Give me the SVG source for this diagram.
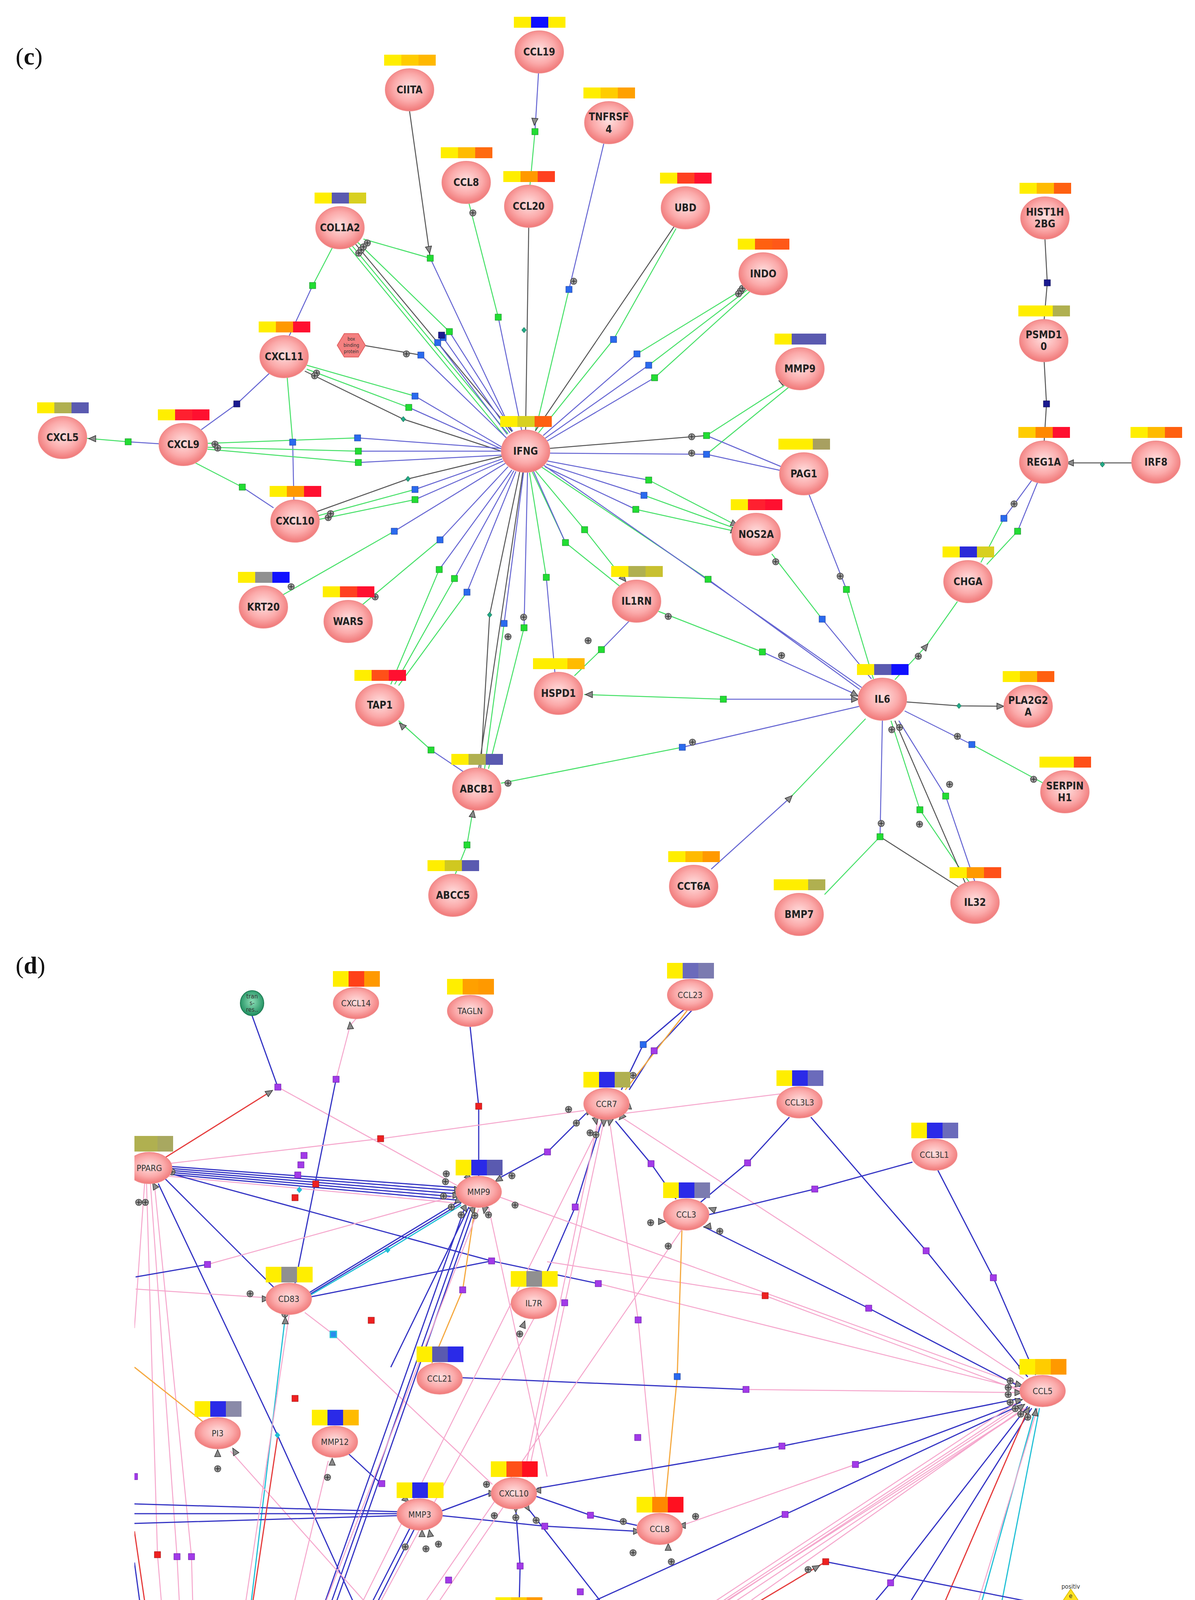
<svg xmlns="http://www.w3.org/2000/svg" xmlns:xlink="http://www.w3.org/1999/xlink" width="3058" height="5252" viewBox="0 0 3058 5252">
<style>
.b{stroke:#6464d2;stroke-width:2.5;fill:none}
.g{stroke:#44e066;stroke-width:2.5;fill:none}
.k{stroke:#555;stroke-width:2.5;fill:none}
.db{stroke:#3434c4;stroke-width:3;fill:none}
.pk{stroke:#f5a6cc;stroke-width:2.5;fill:none}
.rd{stroke:#e53a3a;stroke-width:3;fill:none}
.cy{stroke:#22c0d6;stroke-width:3;fill:none}
.or{stroke:#f5a940;stroke-width:3;fill:none}
.nd{fill:url(#rg);stroke:#f08a8a;stroke-width:2}
.tc{font-family:"DejaVu Sans Condensed","DejaVu Sans",sans-serif;font-weight:bold;font-size:26px;fill:#222;text-anchor:middle}
.td{font-family:"DejaVu Sans Condensed","DejaVu Sans",sans-serif;font-size:22px;fill:#333;text-anchor:middle}
.ts{font-family:"DejaVu Sans Condensed","DejaVu Sans",sans-serif;font-size:16px;fill:#333;text-anchor:middle}
.lab{font-family:"Liberation Serif",serif;font-size:62px;fill:#111}
</style>
<defs>
<radialGradient id="rg" cx="50%" cy="45%" r="55%"><stop offset="0" stop-color="#ffe0e0"/><stop offset="0.6" stop-color="#fbaaaa"/><stop offset="1" stop-color="#f07878"/></radialGradient>
<radialGradient id="gg" cx="50%" cy="45%" r="55%"><stop offset="0" stop-color="#8fe0b8"/><stop offset="1" stop-color="#1f8f60"/></radialGradient>
<g id="pl"><circle r="8" fill="#9a9a9a" stroke="#333" stroke-width="1.5"/><path d="M-6,0H6M0,-6V6" stroke="#222" stroke-width="1.5"/></g>
<polygon id="tr" points="-9,-8 9,0 -9,8" fill="#8a8a8a" stroke="#333" stroke-width="1.5"/>
<rect id="sG" x="-8" y="-8" width="16" height="16" fill="#22dd33" stroke="#118822"/>
<rect id="sB" x="-8" y="-8" width="16" height="16" fill="#2a6aee" stroke="#1a3a9a"/>
<rect id="sD" x="-8" y="-8" width="16" height="16" fill="#1a1a90" stroke="#0a0a50"/>
<rect id="sP" x="-8" y="-8" width="16" height="16" fill="#a23ae8" stroke="#6010a0"/>
<rect id="sR" x="-8" y="-8" width="16" height="16" fill="#ee2020" stroke="#a01010"/>
<rect id="sC" x="-8" y="-8" width="16" height="16" fill="#2a8aee" stroke="#22c0d6" stroke-width="3"/>
<polygon id="dm" points="0,-7 6,0 0,7 -6,0" fill="#22aa88" stroke="#116644"/>
<polygon id="dc" points="0,-8 7,0 0,8 -7,0" fill="#22c0d6"/>
<clipPath id="cd"><rect x="344" y="2420" width="2714" height="2792"/></clipPath>
</defs>
<rect width="3058" height="5252" fill="#fff"/>
<text class="lab" x="40" y="165">(<tspan font-weight="bold">c</tspan>)</text>
<text class="lab" x="40" y="2492">(<tspan font-weight="bold">d</tspan>)</text>

<g id="connectors-c">
<path class="k" d="M1048,284L1101,661"/><path class="b" d="M1101,661L1310,1105"/>
<path class="b" d="M1378,187L1369,337"/><path class="g" d="M1369,337L1356,476"/>
<path class="b" d="M1545,368L1456,741"/><path class="g" d="M1456,741L1370,1103"/>
<path class="g" d="M1200,520L1275,812"/><path class="b" d="M1275,812L1335,1102"/>
<path class="k" d="M1353,582L1345,1101"/>
<path class="k" d="M1725,580L1370,1103"/><path class="g" d="M1730,585L1570,869L1378,1108"/>
<path class="g" d="M900,628L1300,1110M893,633L1290,1115M915,620L1150,849"/><path class="k" d="M910,625L1310,1105"/><path class="g" d="M930,612L1101,661"/>
<path class="b" d="M1134,864L1305,1108M1120,877L1298,1112M1150,849L1312,1104"/>
<path class="g" d="M1910,735L1630,906M1915,740L1660,935M1920,745L1675,967"/><path class="b" d="M1630,906L1390,1115M1660,935L1395,1122M1675,967L1398,1130"/>
<path class="k" d="M930,884L1077,909"/><path class="b" d="M1077,909L1300,1125"/>
<path class="g" d="M785,935L1062,1014M785,945L1046,1043"/><path class="b" d="M1062,1014L1285,1145M1046,1043L1285,1150"/><path class="k" d="M780,950L1032,1073L1283,1155"/>
<path class="b" d="M740,860L800,731"/><path class="g" d="M800,731L850,635"/>
<path class="b" d="M690,955L606,1034L515,1100"/>
<path class="g" d="M735,967L749,1132"/><path class="b" d="M749,1132L752,1280"/>
<path class="b" d="M407,1136L328,1131"/><path class="g" d="M328,1131L222,1122"/>
<path class="g" d="M531,1135L915,1121M531,1145L917,1155M531,1150L917,1184"/><path class="b" d="M915,1121L1283,1148M917,1155L1283,1155M917,1184L1285,1165"/>
<path class="g" d="M500,1185L620,1247"/><path class="b" d="M620,1247L700,1300"/>
<path class="g" d="M815,1320L1062,1253M815,1330L1062,1279"/><path class="b" d="M1062,1253L1285,1175M1062,1279L1288,1180"/><path class="k" d="M810,1310L1044,1226L1285,1168"/>
<path class="g" d="M2010,985L1808,1115M2020,990L1808,1163"/><path class="k" d="M1405,1148L1808,1115"/><path class="b" d="M1808,1163L1405,1160M2000,1195L1808,1115M2000,1205L1808,1163"/>
<path class="b" d="M1400,1180L1660,1229M1398,1188L1648,1268M1395,1195L1627,1304"/><path class="g" d="M1660,1229L1885,1345M1648,1268L1888,1355M1627,1304L1890,1362"/>
<path class="g" d="M720,1525L1009,1360"/><path class="b" d="M1009,1360L1295,1185"/>
<path class="g" d="M925,1550L1126,1382"/><path class="b" d="M1126,1382L1300,1195"/>
<path class="g" d="M1000,1752L1124,1458M1010,1752L1163,1481M1020,1755L1195,1516"/><path class="b" d="M1124,1458L1310,1203M1163,1481L1315,1205M1195,1516L1320,1207"/>
<path class="k" d="M1230,1968L1253,1574L1330,1208M1225,1968L1338,1208"/><path class="g" d="M1240,1968L1290,1596M1250,1968L1341,1607"/><path class="b" d="M1290,1596L1340,1208M1341,1607L1350,1208"/>
<path class="g" d="M1370,1205L1496,1356L1600,1488M1362,1208L1447,1389L1585,1500"/><path class="b" d="M1365,1206L1447,1389"/>
<path class="b" d="M1420,1722L1398,1478"/><path class="g" d="M1398,1478L1355,1210"/>
<path class="g" d="M1385,1195L1812,1483"/><path class="b" d="M1812,1483L2200,1765M1390,1190L2205,1760"/>
<path class="g" d="M1685,1565L1951,1669"/><path class="b" d="M1951,1669L2195,1780"/>
<path class="b" d="M1610,1590L1539,1663"/><path class="g" d="M1539,1663L1470,1730"/>
<path class="g" d="M1495,1778L1851,1790"/><path class="b" d="M1851,1790L2195,1790"/>
<path class="g" d="M1975,1418L2104,1585"/><path class="b" d="M2104,1585L2230,1738"/>
<path class="b" d="M2070,1265L2166,1509"/><path class="g" d="M2166,1509L2235,1738"/>
<path class="g" d="M2290,1740L2369,1655L2450,1540"/>
<path class="g" d="M2510,1440L2569,1327M2525,1445L2604,1360"/><path class="b" d="M2569,1327L2640,1230M2604,1360L2655,1235"/>
<path class="k" d="M2896,1185L2733,1185"/>
<path class="k" d="M2672,926L2678,1034L2672,1129"/>
<path class="k" d="M2674,612L2680,724L2672,818"/>
<path class="k" d="M2320,1797L2454,1807L2568,1808"/>
<path class="b" d="M2315,1820L2487,1906"/><path class="g" d="M2487,1906L2670,2005"/>
<path class="g" d="M1282,2005L1746,1913"/><path class="b" d="M1746,1913L2200,1808"/>
<path class="b" d="M1185,1975L1103,1920"/><path class="g" d="M1103,1920L1020,1845"/>
<path class="g" d="M1165,2238L1195,2163L1210,2075"/>
<path class="b" d="M1820,2225L2021,2043"/><path class="g" d="M2021,2043L2215,1840"/>
<path class="g" d="M2110,2290L2252,2142"/><path class="b" d="M2252,2142L2258,1845"/><path class="k" d="M2460,2275L2252,2142"/>
<path class="g" d="M2480,2258L2354,2073L2280,1845"/><path class="b" d="M2495,2258L2420,2038L2300,1845"/><path class="k" d="M2470,2260L2290,1845"/>
<g>
<use href="#sG" x="1101" y="661"/><use href="#sG" x="1369" y="337"/><use href="#sB" x="1456" y="741"/><use href="#sG" x="1275" y="812"/><use href="#dm" x="1341" y="845"/><use href="#sB" x="1570" y="869"/>
<use href="#sB" x="1134" y="864"/><use href="#sB" x="1120" y="877"/><use href="#sG" x="1150" y="849"/><use href="#sD" x="1130" y="858"/>
<use href="#sB" x="1630" y="906"/><use href="#sB" x="1660" y="935"/><use href="#sG" x="1675" y="967"/><use href="#sB" x="1077" y="909"/>
<use href="#sB" x="1062" y="1014"/><use href="#sG" x="1046" y="1043"/><use href="#dm" x="1032" y="1073"/><use href="#sG" x="800" y="731"/><use href="#sD" x="606" y="1034"/><use href="#sB" x="749" y="1132"/>
<use href="#sG" x="328" y="1131"/><use href="#sB" x="915" y="1121"/><use href="#sG" x="917" y="1155"/><use href="#sG" x="917" y="1184"/><use href="#sG" x="620" y="1247"/>
<use href="#sB" x="1062" y="1253"/><use href="#sG" x="1062" y="1279"/><use href="#dm" x="1044" y="1226"/><use href="#sG" x="1808" y="1115"/><use href="#sB" x="1808" y="1163"/>
<use href="#sG" x="1660" y="1229"/><use href="#sB" x="1648" y="1268"/><use href="#sG" x="1627" y="1304"/><use href="#sB" x="1009" y="1360"/><use href="#sB" x="1126" y="1382"/>
<use href="#sG" x="1124" y="1458"/><use href="#sG" x="1163" y="1481"/><use href="#sB" x="1195" y="1516"/><use href="#dm" x="1253" y="1574"/><use href="#sB" x="1290" y="1596"/><use href="#sG" x="1341" y="1607"/>
<use href="#sG" x="1496" y="1356"/><use href="#sG" x="1447" y="1389"/><use href="#sG" x="1398" y="1478"/><use href="#sG" x="1812" y="1483"/><use href="#sG" x="1951" y="1669"/><use href="#sG" x="1539" y="1663"/><use href="#sG" x="1851" y="1790"/>
<use href="#sB" x="2104" y="1585"/><use href="#sG" x="2166" y="1509"/><use href="#sB" x="2569" y="1327"/><use href="#sG" x="2604" y="1360"/><use href="#dm" x="2821" y="1189"/><use href="#sD" x="2678" y="1034"/><use href="#sD" x="2680" y="724"/>
<use href="#dm" x="2454" y="1807"/><use href="#sB" x="2487" y="1906"/><use href="#sB" x="1746" y="1913"/><use href="#sG" x="1103" y="1920"/><use href="#sG" x="1195" y="2163"/><use href="#sG" x="2252" y="2142"/><use href="#sG" x="2354" y="2073"/><use href="#sG" x="2420" y="2038"/>
<use href="#tr" transform="translate(1098,640) rotate(80)"/><use href="#tr" transform="translate(1368,312) rotate(95)"/><use href="#tr" transform="translate(2021,2043) rotate(-45)"/><use href="#tr" transform="translate(2369,1655) rotate(-50)"/>
<use href="#tr" transform="translate(2738,1185) rotate(180)"/><use href="#tr" transform="translate(2560,1808)"/><use href="#tr" transform="translate(236,1123) rotate(180)"/><use href="#tr" transform="translate(1210,2083) rotate(-80)"/>
<use href="#tr" transform="translate(1028,1857) rotate(-135)"/><use href="#tr" transform="translate(1507,1778) rotate(180)"/><use href="#tr" transform="translate(2188,1790)"/><use href="#tr" transform="translate(2188,1778) rotate(30)"/>
<use href="#tr" transform="translate(2005,975) rotate(-40)"/><use href="#tr" transform="translate(1880,1342) rotate(25)"/><use href="#tr" transform="translate(1880,1360) rotate(20)"/><use href="#tr" transform="translate(1596,1482) rotate(50)"/>
<use href="#pl" x="1210" y="545"/><use href="#pl" x="1468" y="720"/><use href="#pl" x="940" y="622"/><use href="#pl" x="918" y="648"/><use href="#pl" x="924" y="640"/><use href="#pl" x="930" y="632"/>
<use href="#pl" x="1895" y="745"/><use href="#pl" x="1890" y="752"/><use href="#pl" x="1900" y="738"/><use href="#pl" x="1040" y="906"/><use href="#pl" x="810" y="955"/><use href="#pl" x="805" y="962"/>
<use href="#pl" x="550" y="1137"/><use href="#pl" x="557" y="1147"/><use href="#pl" x="840" y="1325"/><use href="#pl" x="846" y="1315"/><use href="#pl" x="1770" y="1118"/><use href="#pl" x="1770" y="1160"/>
<use href="#pl" x="745" y="1502"/><use href="#pl" x="960" y="1528"/><use href="#pl" x="1300" y="1630"/><use href="#pl" x="1340" y="1580"/><use href="#pl" x="1505" y="1640"/><use href="#pl" x="1710" y="1578"/><use href="#pl" x="1985" y="1438"/>
<use href="#pl" x="1300" y="2005"/><use href="#pl" x="2450" y="1885"/><use href="#pl" x="2645" y="1995"/><use href="#pl" x="2150" y="1475"/><use href="#pl" x="2255" y="2108"/><use href="#pl" x="2430" y="2008"/><use href="#pl" x="2353" y="2110"/>
<use href="#pl" x="2000" y="1678"/><use href="#pl" x="2350" y="1680"/><use href="#pl" x="2282" y="1868"/><use href="#pl" x="2302" y="1862"/><use href="#pl" x="2595" y="1290"/><use href="#pl" x="1772" y="1900"/>
</g>
</g>

<g id="nodes-c">
<g id="c-IFNG" transform="translate(1345,1155)"><rect x="-65" y="-90" width="44" height="28" fill="#ffee00"/><rect x="-21" y="-90" width="44" height="28" fill="#d8d020"/><rect x="23" y="-90" width="44" height="28" fill="#ff6010"/><ellipse class="nd" rx="62" ry="54"/><text class="tc" y="9">IFNG</text></g>
<g id="c-CCL19" transform="translate(1380,133)"><rect x="-65" y="-90" width="44" height="28" fill="#ffee00"/><rect x="-21" y="-90" width="44" height="28" fill="#1010ff"/><rect x="23" y="-90" width="44" height="28" fill="#ffee00"/><ellipse class="nd" rx="62" ry="54"/><text class="tc" y="9">CCL19</text></g>
<g id="c-CIITA" transform="translate(1048,230)"><rect x="-65" y="-90" width="44" height="28" fill="#ffee00"/><rect x="-21" y="-90" width="44" height="28" fill="#ffcc00"/><rect x="23" y="-90" width="44" height="28" fill="#ffb800"/><ellipse class="nd" rx="62" ry="54"/><text class="tc" y="9">CIITA</text></g>
<g id="c-TNFRSF4" transform="translate(1558,314)"><rect x="-65" y="-90" width="44" height="28" fill="#ffee00"/><rect x="-21" y="-90" width="44" height="28" fill="#ffcc00"/><rect x="23" y="-90" width="44" height="28" fill="#ffa000"/><ellipse class="nd" rx="62" ry="54"/><text class="tc" y="-6">TNFRSF</text><text class="tc" y="26">4</text></g>
<g id="c-CCL8" transform="translate(1193,467)"><rect x="-65" y="-90" width="44" height="28" fill="#ffee00"/><rect x="-21" y="-90" width="44" height="28" fill="#ffbb00"/><rect x="23" y="-90" width="44" height="28" fill="#ff6a10"/><ellipse class="nd" rx="62" ry="54"/><text class="tc" y="9">CCL8</text></g>
<g id="c-CCL20" transform="translate(1353,528)"><rect x="-65" y="-90" width="44" height="28" fill="#ffee00"/><rect x="-21" y="-90" width="44" height="28" fill="#ff9900"/><rect x="23" y="-90" width="44" height="28" fill="#ff4020"/><ellipse class="nd" rx="62" ry="54"/><text class="tc" y="9">CCL20</text></g>
<g id="c-UBD" transform="translate(1754,532)"><rect x="-65" y="-90" width="44" height="28" fill="#ffee00"/><rect x="-21" y="-90" width="44" height="28" fill="#ff4020"/><rect x="23" y="-90" width="44" height="28" fill="#ff1030"/><ellipse class="nd" rx="62" ry="54"/><text class="tc" y="9">UBD</text></g>
<g id="c-COL1A2" transform="translate(870,583)"><rect x="-65" y="-90" width="44" height="28" fill="#ffee00"/><rect x="-21" y="-90" width="44" height="28" fill="#5a5ab0"/><rect x="23" y="-90" width="44" height="28" fill="#d8d020"/><ellipse class="nd" rx="62" ry="54"/><text class="tc" y="9">COL1A2</text></g>
<g id="c-INDO" transform="translate(1953,701)"><rect x="-65" y="-90" width="44" height="28" fill="#ffee00"/><rect x="-21" y="-90" width="44" height="28" fill="#ff6010"/><rect x="23" y="-90" width="44" height="28" fill="#ff5818"/><ellipse class="nd" rx="62" ry="54"/><text class="tc" y="9">INDO</text></g>
<g id="c-box" transform="translate(899,884)"><polygon points="-36,0 -18,-30 18,-30 36,0 18,30 -18,30" fill="#f48080" stroke="#e06060" stroke-width="2"/><text class="ts" font-size="12" y="-12" style="font-size:12px">box</text><text class="ts" y="4" style="font-size:12px">binding</text><text class="ts" y="20" style="font-size:12px">protein</text></g>
<g id="c-CXCL11" transform="translate(727,913)"><rect x="-65" y="-90" width="44" height="28" fill="#ffee00"/><rect x="-21" y="-90" width="44" height="28" fill="#ff9900"/><rect x="23" y="-90" width="44" height="28" fill="#ff1030"/><ellipse class="nd" rx="62" ry="54"/><text class="tc" y="9">CXCL11</text></g>
<g id="c-MMP9" transform="translate(2047,944)"><rect x="-65" y="-90" width="44" height="28" fill="#ffee00"/><rect x="-21" y="-90" width="44" height="28" fill="#5a5ab0"/><rect x="23" y="-90" width="44" height="28" fill="#5a5ab0"/><ellipse class="nd" rx="62" ry="54"/><text class="tc" y="9">MMP9</text></g>
<g id="c-CXCL5" transform="translate(160,1120)"><rect x="-65" y="-90" width="44" height="28" fill="#ffee00"/><rect x="-21" y="-90" width="44" height="28" fill="#b0b050"/><rect x="23" y="-90" width="44" height="28" fill="#5a5ab0"/><ellipse class="nd" rx="62" ry="54"/><text class="tc" y="9">CXCL5</text></g>
<g id="c-CXCL9" transform="translate(469,1138)"><rect x="-65" y="-90" width="44" height="28" fill="#ffee00"/><rect x="-21" y="-90" width="44" height="28" fill="#ff2030"/><rect x="23" y="-90" width="44" height="28" fill="#ff1030"/><ellipse class="nd" rx="62" ry="54"/><text class="tc" y="9">CXCL9</text></g>
<g id="c-PAG1" transform="translate(2057,1213)"><rect x="-65" y="-90" width="44" height="28" fill="#ffee00"/><rect x="-21" y="-90" width="44" height="28" fill="#ffee00"/><rect x="23" y="-90" width="44" height="28" fill="#a8a060"/><ellipse class="nd" rx="62" ry="54"/><text class="tc" y="9">PAG1</text></g>
<g id="c-HIST1H2BG" transform="translate(2674,558)"><rect x="-65" y="-90" width="44" height="28" fill="#ffee00"/><rect x="-21" y="-90" width="44" height="28" fill="#ffbb00"/><rect x="23" y="-90" width="44" height="28" fill="#ff6010"/><ellipse class="nd" rx="62" ry="54"/><text class="tc" y="-6">HIST1H</text><text class="tc" y="24">2BG</text></g>
<g id="c-PSMD10" transform="translate(2671,872)"><rect x="-65" y="-90" width="44" height="28" fill="#ffee00"/><rect x="-21" y="-90" width="44" height="28" fill="#ffee00"/><rect x="23" y="-90" width="44" height="28" fill="#b0b050"/><ellipse class="nd" rx="62" ry="54"/><text class="tc" y="-6">PSMD1</text><text class="tc" y="24">0</text></g>
<g id="c-REG1A" transform="translate(2671,1183)"><rect x="-65" y="-90" width="44" height="28" fill="#ffcc00"/><rect x="-21" y="-90" width="44" height="28" fill="#ff8800"/><rect x="23" y="-90" width="44" height="28" fill="#ff1030"/><ellipse class="nd" rx="62" ry="54"/><text class="tc" y="9">REG1A</text></g>
<g id="c-IRF8" transform="translate(2958,1183)"><rect x="-65" y="-90" width="44" height="28" fill="#ffee00"/><rect x="-21" y="-90" width="44" height="28" fill="#ffbb00"/><rect x="23" y="-90" width="44" height="28" fill="#ff6010"/><ellipse class="nd" rx="62" ry="54"/><text class="tc" y="9">IRF8</text></g>
<g id="c-CXCL10" transform="translate(755,1334)"><rect x="-65" y="-90" width="44" height="28" fill="#ffee00"/><rect x="-21" y="-90" width="44" height="28" fill="#ff9900"/><rect x="23" y="-90" width="44" height="28" fill="#ff1030"/><ellipse class="nd" rx="62" ry="54"/><text class="tc" y="9">CXCL10</text></g>
<g id="c-NOS2A" transform="translate(1935,1368)"><rect x="-65" y="-90" width="44" height="28" fill="#ffee00"/><rect x="-21" y="-90" width="44" height="28" fill="#ff2030"/><rect x="23" y="-90" width="44" height="28" fill="#ff1030"/><ellipse class="nd" rx="62" ry="54"/><text class="tc" y="9">NOS2A</text></g>
<g id="c-KRT20" transform="translate(674,1554)"><rect x="-65" y="-90" width="44" height="28" fill="#ffee00"/><rect x="-21" y="-90" width="44" height="28" fill="#909090"/><rect x="23" y="-90" width="44" height="28" fill="#1010ff"/><ellipse class="nd" rx="62" ry="54"/><text class="tc" y="9">KRT20</text></g>
<g id="c-WARS" transform="translate(891,1591)"><rect x="-65" y="-90" width="44" height="28" fill="#ffee00"/><rect x="-21" y="-90" width="44" height="28" fill="#ff4020"/><rect x="23" y="-90" width="44" height="28" fill="#ff1030"/><ellipse class="nd" rx="62" ry="54"/><text class="tc" y="9">WARS</text></g>
<g id="c-IL1RN" transform="translate(1629,1539)"><rect x="-65" y="-90" width="44" height="28" fill="#ffee00"/><rect x="-21" y="-90" width="44" height="28" fill="#b0b050"/><rect x="23" y="-90" width="44" height="28" fill="#c8c030"/><ellipse class="nd" rx="62" ry="54"/><text class="tc" y="9">IL1RN</text></g>
<g id="c-CHGA" transform="translate(2477,1489)"><rect x="-65" y="-90" width="44" height="28" fill="#ffee00"/><rect x="-21" y="-90" width="44" height="28" fill="#2a2ad8"/><rect x="23" y="-90" width="44" height="28" fill="#d8d020"/><ellipse class="nd" rx="62" ry="54"/><text class="tc" y="9">CHGA</text></g>
<g id="c-HSPD1" transform="translate(1429,1775)"><rect x="-65" y="-90" width="44" height="28" fill="#ffee00"/><rect x="-21" y="-90" width="44" height="28" fill="#ffee00"/><rect x="23" y="-90" width="44" height="28" fill="#ffbb00"/><ellipse class="nd" rx="62" ry="54"/><text class="tc" y="9">HSPD1</text></g>
<g id="c-TAP1" transform="translate(972,1805)"><rect x="-65" y="-90" width="44" height="28" fill="#ffee00"/><rect x="-21" y="-90" width="44" height="28" fill="#ff5018"/><rect x="23" y="-90" width="44" height="28" fill="#ff1030"/><ellipse class="nd" rx="62" ry="54"/><text class="tc" y="9">TAP1</text></g>
<g id="c-IL6" transform="translate(2258,1790)"><rect x="-65" y="-90" width="44" height="28" fill="#ffee00"/><rect x="-21" y="-90" width="44" height="28" fill="#5a5ab0"/><rect x="23" y="-90" width="44" height="28" fill="#1010ff"/><ellipse class="nd" rx="62" ry="54"/><text class="tc" y="9">IL6</text></g>
<g id="c-PLA2G2A" transform="translate(2631,1808)"><rect x="-65" y="-90" width="44" height="28" fill="#ffee00"/><rect x="-21" y="-90" width="44" height="28" fill="#ffbb00"/><rect x="23" y="-90" width="44" height="28" fill="#ff6010"/><ellipse class="nd" rx="62" ry="54"/><text class="tc" y="-6">PLA2G2</text><text class="tc" y="24">A</text></g>
<g id="c-ABCB1" transform="translate(1220,2020)"><rect x="-65" y="-90" width="44" height="28" fill="#ffee00"/><rect x="-21" y="-90" width="44" height="28" fill="#b0b050"/><rect x="23" y="-90" width="44" height="28" fill="#5a5ab0"/><ellipse class="nd" rx="62" ry="54"/><text class="tc" y="9">ABCB1</text></g>
<g id="c-SERPINH1" transform="translate(2725,2027)"><rect x="-65" y="-90" width="44" height="28" fill="#ffee00"/><rect x="-21" y="-90" width="44" height="28" fill="#ffee00"/><rect x="23" y="-90" width="44" height="28" fill="#ff5018"/><ellipse class="nd" rx="62" ry="54"/><text class="tc" y="-6">SERPIN</text><text class="tc" y="24">H1</text></g>
<g id="c-ABCC5" transform="translate(1159,2292)"><rect x="-65" y="-90" width="44" height="28" fill="#ffee00"/><rect x="-21" y="-90" width="44" height="28" fill="#d0c820"/><rect x="23" y="-90" width="44" height="28" fill="#5a5ab0"/><ellipse class="nd" rx="62" ry="54"/><text class="tc" y="9">ABCC5</text></g>
<g id="c-CCT6A" transform="translate(1775,2269)"><rect x="-65" y="-90" width="44" height="28" fill="#ffee00"/><rect x="-21" y="-90" width="44" height="28" fill="#ffbb00"/><rect x="23" y="-90" width="44" height="28" fill="#ff9900"/><ellipse class="nd" rx="62" ry="54"/><text class="tc" y="9">CCT6A</text></g>
<g id="c-BMP7" transform="translate(2045,2341)"><rect x="-65" y="-90" width="44" height="28" fill="#ffee00"/><rect x="-21" y="-90" width="44" height="28" fill="#ffee00"/><rect x="23" y="-90" width="44" height="28" fill="#b0b050"/><ellipse class="nd" rx="62" ry="54"/><text class="tc" y="9">BMP7</text></g>
<g id="c-IL32" transform="translate(2495,2310)"><rect x="-65" y="-90" width="44" height="28" fill="#ffee00"/><rect x="-21" y="-90" width="44" height="28" fill="#ff9900"/><rect x="23" y="-90" width="44" height="28" fill="#ff5018"/><ellipse class="nd" rx="62" ry="54"/><text class="tc" y="9">IL32</text></g>
</g>

<g clip-path="url(#cd)">
<g id="connectors-d">
<path class="db" d="M645,2600L711,2783"/><path class="pk" d="M711,2783L1170,3035"/><path class="rd" d="M420,2965L690,2796"/>
<path class="pk" d="M911,2608L896,2625L860,2763"/><path class="db" d="M860,2763L755,3285"/>
<path class="db" d="M1203,2628L1225,2832L1225,3011"/>
<path class="db" d="M1750,2585L1646,2674L1590,2790M1770,2587L1674,2690L1610,2790"/><path class="or" d="M1760,2585L1600,2790"/>
<path class="db" d="M420,2985L1168,3040M420,2990L1168,3048M420,2995L1168,3056M420,3000L1168,3064M420,3005L1168,3072"/>
<path class="pk" d="M420,2980L974,2915L1495,2843M420,3010L1170,3080"/>
<path class="db" d="M420,3000L1258,3228L1531,3286"/><path class="pk" d="M1531,3286L2610,3555"/>
<path class="db" d="M415,3010L705,3300"/>
<path class="pk" d="M375,3030L403,3980L480,4910M385,3030L453,3985L500,4910M395,3030L490,3985L515,4910M370,3030L344,3400"/>
<path class="db" d="M405,3030L710,3674L1040,4400"/>
<path class="db" d="M790,3310L1175,3075M790,3315L1180,3080"/><path class="cy" d="M790,3318L992,3200L1180,3085"/>
<path class="db" d="M795,3320L1258,3228"/>
<path class="db" d="M347,3269L531,3237"/><path class="pk" d="M531,3237L1170,3060M347,3300L680,3322"/>
<path class="pk" d="M780,3360L853,3416L1260,3800"/>
<path class="cy" d="M730,3370L637,4150L530,4905"/>
<path class="db" d="M1270,3020L1401,2949L1500,2850"/>
<path class="db" d="M1385,3290L1472,3090L1540,2870"/>
<path class="or" d="M1215,3095L1184,3302L1105,3490"/>
<path class="pk" d="M1280,3065L2610,3545M1250,3090L1400,3780"/>
<path class="db" d="M1190,3090L545,4910M1205,3092L560,4915M1215,3092L575,4915M1200,3090L1000,3500"/>
<path class="db" d="M1575,2870L1666,2979L1730,3070"/>
<path class="pk" d="M1590,2860L2620,3530M1530,2870L1340,3780M1545,2872L1350,3782M1560,2870L1633,3379L1680,3870M1600,2850L2000,2800"/>
<path class="db" d="M2075,2860L2370,3202L2630,3525M2020,2860L1913,2977L1790,3080"/>
<path class="db" d="M2400,2996L2542,3271L2650,3520M2335,2975L2085,3044L1812,3110"/>
<path class="db" d="M1800,3140L2223,3349L2610,3550"/><path class="pk" d="M1400,3230L1958,3317L2610,3560"/>
<path class="or" d="M1745,3150L1733,3524L1700,3872"/>
<path class="db" d="M1183,3527L1909,3557"/><path class="pk" d="M1909,3557L2610,3565"/>
<path class="db" d="M2610,3580L2001,3702L1375,3810M2612,3590L2189,3749"/><path class="pk" d="M2189,3749L1745,3905"/>
<path class="db" d="M2615,3595L2009,3877L1385,4160"/>
<path class="db" d="M2630,3600L2279,4052L1910,4490"/>
<path class="db" d="M2640,3605L2207,4296L1760,4965"/>
<path class="cy" d="M2660,3605L2523,4309L2270,4830M2650,3605L2460,4288L2260,4830"/><path class="pk" d="M2655,3605L2280,4830"/>
<path class="rd" d="M2630,3610L2254,4480"/>
<path class="pk" d="M2610,3585L570,4930M2612,3595L575,4940M2615,3600L580,4945M2620,3605L1194,4610M2625,3605L1000,4650M2618,3610L1400,4420"/>
<path class="rd" d="M560,4925L2113,3998M560,4932L1970,4154M565,4938L1990,4150"/><path class="db" d="M2113,3998L2700,4113"/>
<path class="cy" d="M1970,4154L1960,4265"/>
<path class="db" d="M1900,4560L2066,4708L2195,4840"/>
<path class="db" d="M347,4290L915,4359L1815,4515"/>
<path class="db" d="M565,4945L2240,4502"/><path class="pk" d="M2240,4502L2620,4650"/>
<path class="db" d="M570,4975L1131,4991L1670,5003"/><path class="pk" d="M570,4968L1670,4995" stroke-dasharray="6,4"/><path class="rd" d="M1388,4926L1670,4990"/>
<path class="cy" d="M572,4955L1215,4883"/>
<path class="db" d="M1785,5025L1935,5077L2060,5110"/>
<path class="pk" d="M570,4950L2180,4872"/>
<path class="pk" d="M590,3715L1156,4350"/><path class="cy" d="M1156,4350L1705,4965"/>
<path class="db" d="M1130,3880L1394,3907L1630,3920M1125,3870L1260,3820"/>
<path class="db" d="M1370,3830L1511,3879L1630,3905"/>
<path class="db" d="M1320,3865L1331,4009L1328,4130"/>
<path class="db" d="M1350,3860L1603,4184L1830,4490"/>
<path class="db" d="M1270,4170L643,4180L347,4182"/>
<path class="pk" d="M1380,4190L1611,4359"/><path class="cy" d="M1611,4359L1830,4500"/>
<path class="db" d="M2500,5240L2344,5192L2175,5140"/>
<path class="db" d="M1020,3870L344,3850M1020,3880L344,3900M1020,3875L344,3875"/>
<path class="db" d="M1050,3910L540,4910M1060,3915L555,4915"/>
<path class="pk" d="M1290,3855L565,4920M840,3740L560,4910"/>
<path class="or" d="M344,3500L520,3640"/>
<path class="db" d="M890,3720L977,3800"/>
<path class="rd" d="M1194,4610L1235,4650"/>
<path class="db" d="M470,4950L344,4990M470,4960L344,5040M475,4980L344,5110M470,4925L344,4000M475,4920L344,4300"/>
<path class="pk" d="M470,4940L344,4820M472,4935L344,4700"/><path class="cy" d="M470,4930L344,4600M470,4945L344,4760"/><path class="rd" d="M480,4925L344,4250M490,4920L344,3920M475,4955L344,4900"/>
<path class="db" d="M500,5000L420,5212M510,5000L480,5212M520,5000L540,5212M545,4995L900,5212M535,4998L700,5212"/>
<path class="pk" d="M530,5000L650,5212M540,4995L800,5212M550,4990L1000,5212M520,5000L360,5212M555,4985L1300,5212"/>
<path class="or" d="M560,4985L1700,5212M565,4980L1580,5212"/>
<path class="rd" d="M1710,5045L1550,5212M1720,5045L1640,5212"/><path class="db" d="M1730,5045L1700,5212M1740,5045L1745,5212"/><path class="pk" d="M1700,5040L1400,5212"/>
<path class="pk" d="M520,4920L1540,2870M515,4920L1225,3095M525,4920L1750,3140M530,4920L1366,3376M505,4920L740,3365"/>
<path class="rd" d="M525,4915L710,3680"/>
<g>
<use href="#sP" x="711" y="2783"/><use href="#sP" x="860" y="2763"/><use href="#sR" x="1225" y="2832"/><use href="#sB" x="1646" y="2674"/><use href="#sP" x="1674" y="2690"/>
<use href="#sP" x="778" y="2958"/><use href="#sP" x="770" y="2982"/><use href="#sP" x="762" y="3008"/><use href="#sR" x="808" y="3031"/><use href="#sR" x="755" y="3066"/><use href="#dc" x="766" y="3046"/>
<use href="#sR" x="974" y="2915"/><use href="#sP" x="1258" y="3228"/><use href="#sP" x="1531" y="3286"/><use href="#sR" x="403" y="3980"/><use href="#sP" x="453" y="3985"/><use href="#sP" x="490" y="3985"/>
<use href="#dc" x="992" y="3200"/><use href="#sP" x="531" y="3237"/><use href="#sC" x="853" y="3416"/><use href="#sC" x="637" y="4150"/><use href="#sP" x="1401" y="2949"/><use href="#sP" x="1472" y="3090"/><use href="#sP" x="1184" y="3302"/>
<use href="#sP" x="1666" y="2979"/><use href="#sP" x="1633" y="3379"/><use href="#sP" x="2370" y="3202"/><use href="#sP" x="1913" y="2977"/><use href="#sP" x="2542" y="3271"/><use href="#sP" x="2085" y="3044"/><use href="#sP" x="2223" y="3349"/><use href="#sR" x="1958" y="3317"/>
<use href="#sB" x="1733" y="3524"/><use href="#sP" x="1909" y="3557"/><use href="#sP" x="2001" y="3702"/><use href="#sP" x="2189" y="3749"/><use href="#sP" x="2009" y="3877"/><use href="#sP" x="2279" y="4052"/><use href="#sP" x="2207" y="4296"/>
<use href="#dc" x="2523" y="4309"/><use href="#dc" x="2460" y="4288"/><use href="#sR" x="2113" y="3998"/><use href="#dc" x="1970" y="4154"/><use href="#sP" x="2066" y="4708"/><use href="#sP" x="915" y="4359"/><use href="#sP" x="2240" y="4502"/>
<use href="#sP" x="1131" y="4991"/><use href="#dc" x="1215" y="4883"/><use href="#sP" x="1935" y="5077"/><use href="#sC" x="1388" y="4926"/><use href="#dc" x="1156" y="4350"/><use href="#sP" x="1394" y="3907"/><use href="#sP" x="1511" y="3879"/>
<use href="#sP" x="1331" y="4009"/><use href="#sP" x="1603" y="4184"/><use href="#sP" x="643" y="4180"/><use href="#sC" x="1611" y="4359"/><use href="#sP" x="2344" y="5192"/><use href="#sP" x="977" y="3798"/><use href="#sR" x="1194" y="4610"/>
<use href="#sR" x="693" y="4324"/><use href="#sR" x="545" y="4323"/><use href="#sR" x="410" y="4540"/><use href="#sP" x="830" y="4250"/><use href="#sP" x="826" y="4430"/><use href="#sP" x="1112" y="4460"/><use href="#sP" x="1418" y="4458"/><use href="#sR" x="950" y="3380"/><use href="#sR" x="1602" y="4270"/>
<use href="#sP" x="1148" y="4045"/><use href="#sP" x="1485" y="4075"/><use href="#sP" x="1632" y="3680"/><use href="#sP" x="1445" y="3335"/><use href="#sR" x="755" y="3580"/><use href="#sR" x="542" y="4225"/><use href="#sP" x="344" y="3780"/><use href="#sR" x="1160" y="5105"/>
<use href="#dc" x="931" y="4575"/><use href="#dc" x="1200" y="4755"/><use href="#dc" x="710" y="3674"/><use href="#dc" x="766" y="3046"/>
<use href="#tr" transform="translate(690,2796) rotate(-32)"/><use href="#tr" transform="translate(896,2625) rotate(-95)"/><use href="#tr" transform="translate(2254,4480) rotate(-65)"/><use href="#tr" transform="translate(1960,4265) rotate(90)"/>
<use href="#tr" transform="translate(1950,4165) rotate(-30)"/><use href="#tr" transform="translate(2090,4012) rotate(-30)"/><use href="#tr" transform="translate(1200,4878) rotate(-5)"/><use href="#tr" transform="translate(2605,4648) rotate(22)"/>
<use href="#tr" transform="translate(1745,5205) rotate(90)"/><use href="#tr" transform="translate(1180,4625) rotate(-20)"/><use href="#tr" transform="translate(2180,5140) rotate(195)"/><use href="#tr" transform="translate(2160,4865)"/>
<use href="#pl" x="2150" y="4866"/><use href="#pl" x="2578" y="4625"/><use href="#pl" x="1148" y="4628"/><use href="#pl" x="1272" y="4880"/><use href="#pl" x="2068" y="4018"/><use href="#pl" x="1744" y="5155"/><use href="#pl" x="2033" y="5098"/>
<g id="clusters">
<use href="#tr" transform="translate(1172,3045)"/><use href="#tr" transform="translate(1168,3060)"/><use href="#tr" transform="translate(1175,3075) rotate(20)"/><use href="#tr" transform="translate(1190,3095) rotate(60)"/><use href="#tr" transform="translate(1210,3100) rotate(80)"/><use href="#tr" transform="translate(1240,3098) rotate(100)"/><use href="#tr" transform="translate(1200,3015) rotate(45)"/><use href="#tr" transform="translate(1275,3020) rotate(150)"/>
<use href="#pl" x="1142" y="3005"/><use href="#pl" x="1140" y="3025"/><use href="#pl" x="1135" y="3062"/><use href="#pl" x="1155" y="3090"/><use href="#pl" x="1180" y="3110"/><use href="#pl" x="1215" y="3112"/><use href="#pl" x="1250" y="3110"/><use href="#pl" x="1310" y="3010"/><use href="#pl" x="1318" y="3085"/>
<use href="#tr" transform="translate(1510,2845) rotate(-10)"/><use href="#tr" transform="translate(1525,2870) rotate(80)"/><use href="#tr" transform="translate(1545,2875) rotate(90)"/><use href="#tr" transform="translate(1560,2873) rotate(100)"/><use href="#tr" transform="translate(1590,2860) rotate(130)"/><use href="#tr" transform="translate(1605,2835) rotate(160)"/>
<use href="#pl" x="1455" y="2840"/><use href="#pl" x="1475" y="2875"/><use href="#pl" x="1510" y="2900"/><use href="#pl" x="1525" y="2905"/><use href="#pl" x="1620" y="2753"/>
<use href="#pl" x="1665" y="3130"/><use href="#pl" x="1710" y="3190"/><use href="#pl" x="1842" y="3152"/><use href="#tr" transform="translate(1694,3127)"/><use href="#tr" transform="translate(1810,3140) rotate(170)"/><use href="#tr" transform="translate(1822,3095) rotate(200)"/>
<use href="#tr" transform="translate(2608,3545) rotate(15)"/><use href="#tr" transform="translate(2606,3565)"/><use href="#tr" transform="translate(2608,3585) rotate(-15)"/><use href="#tr" transform="translate(2615,3600) rotate(-35)"/><use href="#tr" transform="translate(2630,3610) rotate(-60)"/><use href="#tr" transform="translate(2650,3615) rotate(-80)"/>
<use href="#pl" x="2585" y="3535"/><use href="#pl" x="2580" y="3552"/><use href="#pl" x="2580" y="3570"/><use href="#pl" x="2585" y="3590"/><use href="#pl" x="2598" y="3606"/><use href="#pl" x="2612" y="3620"/><use href="#pl" x="2630" y="3628"/><use href="#pl" x="2615" y="3500"/>
<use href="#tr" transform="translate(1260,3823)"/><use href="#tr" transform="translate(1320,3863) rotate(90)"/><use href="#tr" transform="translate(1350,3860) rotate(60)"/><use href="#tr" transform="translate(1375,3815) rotate(180)"/><use href="#pl" x="1245" y="3800"/><use href="#pl" x="1265" y="3880"/><use href="#pl" x="1320" y="3885"/><use href="#pl" x="1372" y="3892"/>
<use href="#tr" transform="translate(1040,3840) rotate(40)"/><use href="#tr" transform="translate(1080,3925) rotate(-90)"/><use href="#tr" transform="translate(1100,3925) rotate(-100)"/><use href="#pl" x="1037" y="3960"/><use href="#pl" x="1090" y="3965"/><use href="#pl" x="1122" y="3953"/>
<use href="#tr" transform="translate(1630,3920)"/><use href="#tr" transform="translate(1745,3905) rotate(180)"/><use href="#tr" transform="translate(1710,3960) rotate(-90)"/><use href="#pl" x="1595" y="3895"/><use href="#pl" x="1780" y="3882"/><use href="#pl" x="1620" y="3975"/><use href="#pl" x="1718" y="3998"/>
<use href="#tr" transform="translate(1290,4210) rotate(-60)"/><use href="#tr" transform="translate(1385,4205) rotate(-120)"/><use href="#pl" x="1262" y="4226"/><use href="#pl" x="1405" y="4222"/>
<use href="#tr" transform="translate(1815,4505)"/><use href="#tr" transform="translate(1800,4550) rotate(-20)"/><use href="#tr" transform="translate(1910,4490) rotate(-120)"/><use href="#pl" x="1790" y="4475"/><use href="#pl" x="1780" y="4555"/><use href="#pl" x="1935" y="4495"/>
<use href="#tr" transform="translate(470,4940)"/><use href="#tr" transform="translate(560,4945) rotate(180)"/><use href="#tr" transform="translate(505,5005) rotate(-90)"/><use href="#tr" transform="translate(525,5005) rotate(-100)"/><use href="#pl" x="430" y="4912"/><use href="#pl" x="418" y="4985"/><use href="#pl" x="533" y="5038"/><use href="#pl" x="550" y="5035"/><use href="#pl" x="590" y="5020"/><use href="#pl" x="610" y="4960"/>
<use href="#tr" transform="translate(1670,5003)"/><use href="#tr" transform="translate(1665,4990)"/><use href="#pl" x="1640" y="5004"/><use href="#pl" x="1652" y="4996"/>
<use href="#tr" transform="translate(1070,3825) rotate(90)"/><use href="#tr" transform="translate(557,3720) rotate(-90)"/><use href="#tr" transform="translate(600,3715) rotate(-120)"/><use href="#pl" x="557" y="3760"/><use href="#tr" transform="translate(850,3742) rotate(-90)"/><use href="#pl" x="838" y="3782"/>
<use href="#pl" x="640" y="3312"/><use href="#tr" transform="translate(680,3325)"/><use href="#pl" x="729" y="3364"/><use href="#tr" transform="translate(730,3380) rotate(-90)"/>
<use href="#pl" x="1330" y="3415"/><use href="#tr" transform="translate(1340,3390) rotate(-70)"/><use href="#pl" x="2578" y="4625"/><use href="#tr" transform="translate(2605,4648) rotate(22)"/>
<use href="#pl" x="440" y="3000"/><use href="#tr" transform="translate(425,2990) rotate(180)"/><use href="#pl" x="372" y="3078"/><use href="#pl" x="355" y="3078"/><use href="#tr" transform="translate(395,3035) rotate(-120)"/>
</g>
</g>
</g>

<g id="nodes-d">
<g id="d-trans" transform="translate(645,2568)"><ellipse rx="30" ry="32" fill="url(#gg)" stroke="#1a7a50" stroke-width="2"/><text class="ts" y="-12">tran</text><text class="ts" y="5">s-</text><text class="ts" y="22">res..</text></g>
<g id="d-CXCL14" transform="translate(911,2568)"><rect x="-59" y="-82" width="40" height="40" fill="#ffee00"/><rect x="-19" y="-82" width="40" height="40" fill="#ff4018"/><rect x="21" y="-82" width="40" height="40" fill="#ff9900"/><ellipse class="nd" rx="58" ry="40"/><text class="td" y="8">CXCL14</text></g>
<g id="d-TAGLN" transform="translate(1203,2588)"><rect x="-59" y="-82" width="40" height="40" fill="#ffee00"/><rect x="-19" y="-82" width="40" height="40" fill="#ffa000"/><rect x="21" y="-82" width="40" height="40" fill="#ff9900"/><ellipse class="nd" rx="58" ry="40"/><text class="td" y="8">TAGLN</text></g>
<g id="d-CCL23" transform="translate(1766,2547)"><rect x="-59" y="-82" width="40" height="40" fill="#ffee00"/><rect x="-19" y="-82" width="40" height="40" fill="#6b6bbb"/><rect x="21" y="-82" width="40" height="40" fill="#7b7bb0"/><ellipse class="nd" rx="58" ry="40"/><text class="td" y="8">CCL23</text></g>
<g id="d-CCR7" transform="translate(1552,2826)"><rect x="-59" y="-82" width="40" height="40" fill="#ffee00"/><rect x="-19" y="-82" width="40" height="40" fill="#2a2ae8"/><rect x="21" y="-82" width="40" height="40" fill="#b0b050"/><ellipse class="nd" rx="58" ry="40"/><text class="td" y="8">CCR7</text></g>
<g id="d-CCL3L3" transform="translate(2046,2822)"><rect x="-59" y="-82" width="40" height="40" fill="#ffee00"/><rect x="-19" y="-82" width="40" height="40" fill="#2a2ae8"/><rect x="21" y="-82" width="40" height="40" fill="#6b6bbb"/><ellipse class="nd" rx="58" ry="40"/><text class="td" y="8">CCL3L3</text></g>
<g id="d-CCL3L1" transform="translate(2391,2956)"><rect x="-59" y="-82" width="40" height="40" fill="#ffee00"/><rect x="-19" y="-82" width="40" height="40" fill="#2a2ae8"/><rect x="21" y="-82" width="40" height="40" fill="#6b6bbb"/><ellipse class="nd" rx="58" ry="40"/><text class="td" y="8">CCL3L1</text></g>
<g id="d-PPARG" transform="translate(382,2990)"><rect x="-59" y="-82" width="40" height="40" fill="#b0b050"/><rect x="-19" y="-82" width="40" height="40" fill="#b0b050"/><rect x="21" y="-82" width="40" height="40" fill="#a8a860"/><ellipse class="nd" rx="58" ry="40"/><text class="td" y="8">PPARG</text></g>
<g id="d-MMP9" transform="translate(1225,3051)"><rect x="-59" y="-82" width="40" height="40" fill="#ffee00"/><rect x="-19" y="-82" width="40" height="40" fill="#2a2ae8"/><rect x="21" y="-82" width="40" height="40" fill="#5a5ab0"/><ellipse class="nd" rx="58" ry="40"/><text class="td" y="8">MMP9</text></g>
<g id="d-CCL3" transform="translate(1756,3109)"><rect x="-59" y="-82" width="40" height="40" fill="#ffee00"/><rect x="-19" y="-82" width="40" height="40" fill="#2a2ae8"/><rect x="21" y="-82" width="40" height="40" fill="#7b7bb0"/><ellipse class="nd" rx="58" ry="40"/><text class="td" y="8">CCL3</text></g>
<g id="d-CD83" transform="translate(739,3325)"><rect x="-59" y="-82" width="40" height="40" fill="#ffee00"/><rect x="-19" y="-82" width="40" height="40" fill="#909090"/><rect x="21" y="-82" width="40" height="40" fill="#ffee00"/><ellipse class="nd" rx="58" ry="40"/><text class="td" y="8">CD83</text></g>
<g id="d-IL7R" transform="translate(1366,3336)"><rect x="-59" y="-82" width="40" height="40" fill="#ffee00"/><rect x="-19" y="-82" width="40" height="40" fill="#909090"/><rect x="21" y="-82" width="40" height="40" fill="#ffee00"/><ellipse class="nd" rx="58" ry="40"/><text class="td" y="8">IL7R</text></g>
<g id="d-CCL21" transform="translate(1125,3529)"><rect x="-59" y="-82" width="40" height="40" fill="#ffee00"/><rect x="-19" y="-82" width="40" height="40" fill="#5a5ab0"/><rect x="21" y="-82" width="40" height="40" fill="#2a2ae8"/><ellipse class="nd" rx="58" ry="40"/><text class="td" y="8">CCL21</text></g>
<g id="d-CCL5" transform="translate(2668,3561)"><rect x="-59" y="-82" width="40" height="40" fill="#ffee00"/><rect x="-19" y="-82" width="40" height="40" fill="#ffcc00"/><rect x="21" y="-82" width="40" height="40" fill="#ff9900"/><ellipse class="nd" rx="58" ry="40"/><text class="td" y="8">CCL5</text></g>
<g id="d-PI3" transform="translate(557,3669)"><rect x="-59" y="-82" width="40" height="40" fill="#ffee00"/><rect x="-19" y="-82" width="40" height="40" fill="#2a2ae8"/><rect x="21" y="-82" width="40" height="40" fill="#8a8aa8"/><ellipse class="nd" rx="58" ry="40"/><text class="td" y="8">PI3</text></g>
<g id="d-MMP12" transform="translate(857,3691)"><rect x="-59" y="-82" width="40" height="40" fill="#ffee00"/><rect x="-19" y="-82" width="40" height="40" fill="#2a2ae8"/><rect x="21" y="-82" width="40" height="40" fill="#ffbb00"/><ellipse class="nd" rx="58" ry="40"/><text class="td" y="8">MMP12</text></g>
<g id="d-CXCL10" transform="translate(1315,3823)"><rect x="-59" y="-82" width="40" height="40" fill="#ffee00"/><rect x="-19" y="-82" width="40" height="40" fill="#ff5018"/><rect x="21" y="-82" width="40" height="40" fill="#ff1020"/><ellipse class="nd" rx="58" ry="40"/><text class="td" y="8">CXCL10</text></g>
<g id="d-MMP3" transform="translate(1074,3877)"><rect x="-59" y="-82" width="40" height="40" fill="#ffee00"/><rect x="-19" y="-82" width="40" height="40" fill="#2a2ae8"/><rect x="21" y="-82" width="40" height="40" fill="#ffee00"/><ellipse class="nd" rx="58" ry="40"/><text class="td" y="8">MMP3</text></g>
<g id="d-CCL8" transform="translate(1688,3914)"><rect x="-59" y="-82" width="40" height="40" fill="#ffee00"/><rect x="-19" y="-82" width="40" height="40" fill="#ff8800"/><rect x="21" y="-82" width="40" height="40" fill="#ff1020"/><ellipse class="nd" rx="58" ry="40"/><text class="td" y="8">CCL8</text></g>
<g id="d-posreg" transform="translate(2740,4113)"><polygon points="0,-45 30,0 0,45 -30,0" fill="#ffe020" stroke="#e0c000" stroke-width="2"/><text class="ts" y="-46">positiv</text><text class="ts" y="-22">e</text><text class="ts" y="2">regula</text><text class="ts" y="26">tion of</text><text class="ts" y="50">NF..</text></g>
<g id="d-CXCL11" transform="translate(1327,4171)"><rect x="-59" y="-82" width="40" height="40" fill="#ffee00"/><rect x="-19" y="-82" width="40" height="40" fill="#ffcc00"/><rect x="21" y="-82" width="40" height="40" fill="#ff9900"/><ellipse class="nd" rx="58" ry="40"/><text class="td" y="8">CXCL11</text></g>
<g id="d-SYK" transform="translate(1960,4307)"><rect x="-59" y="-82" width="40" height="40" fill="#ffee00"/><rect x="-19" y="-82" width="40" height="40" fill="#ffee00"/><rect x="21" y="-82" width="40" height="40" fill="#ffee00"/><ellipse class="nd" rx="58" ry="40"/><text class="td" y="8">SYK</text></g>
<g id="d-CXCL9" transform="translate(1870,4524)"><rect x="-59" y="-82" width="40" height="40" fill="#ffee00"/><rect x="-19" y="-82" width="40" height="40" fill="#e0d820"/><rect x="21" y="-82" width="40" height="40" fill="#ff4010"/><ellipse class="nd" rx="58" ry="40"/><text class="td" y="8">CXCL9</text></g>
<g id="d-ACAN" transform="translate(1284,4666)"><rect x="-59" y="-82" width="40" height="40" fill="#ffee00"/><rect x="-19" y="-82" width="40" height="40" fill="#ffee00"/><rect x="21" y="-82" width="40" height="40" fill="#ffee00"/><ellipse class="nd" rx="58" ry="40"/><text class="td" y="8">ACAN</text></g>
<g id="d-eos" transform="translate(2670,4660)"><rect x="-54" y="-28" width="108" height="56" rx="10" fill="#a8dcf8" stroke="#70b8e8" stroke-width="2"/><text class="ts" y="-4">eosinop</text><text class="ts" y="16">hils</text></g>
<g id="d-Dino" transform="translate(1368,4835)"><ellipse rx="30" ry="32" fill="url(#gg)" stroke="#1a7a50" stroke-width="2"/><text class="ts" y="-12">Dino</text><text class="ts" y="5">pros</text><text class="ts" y="22">..</text></g>
<g id="d-CXCL5" transform="translate(2240,4870)"><rect x="-59" y="-82" width="40" height="40" fill="#ffee00"/><rect x="-19" y="-82" width="40" height="40" fill="#2a2ae8"/><rect x="21" y="-82" width="40" height="40" fill="#b0b050"/><ellipse class="nd" rx="58" ry="40"/><text class="td" y="8">CXCL5</text></g>
<g id="d-IL1B" transform="translate(512,4960)"><rect x="-59" y="-82" width="40" height="40" fill="#ffee00"/><rect x="-19" y="-82" width="40" height="40" fill="#2a2ae8"/><rect x="21" y="-82" width="40" height="40" fill="#5a5ab0"/><ellipse class="nd" rx="58" ry="40"/><text class="td" y="8">IL1B</text></g>
<g id="d-IL1RN" transform="translate(1727,5006)"><rect x="-59" y="-82" width="40" height="40" fill="#ffee00"/><rect x="-19" y="-82" width="40" height="40" fill="#909090"/><rect x="21" y="-82" width="40" height="40" fill="#d8d020"/><ellipse class="nd" rx="58" ry="40"/><text class="td" y="8">IL1RN</text></g>
<g id="d-HSPA1A" transform="translate(2121,5125)"><rect x="-59" y="-82" width="40" height="40" fill="#ffee00"/><rect x="-19" y="-82" width="40" height="40" fill="#ff9900"/><rect x="21" y="-82" width="40" height="40" fill="#ff7a00"/><ellipse class="nd" rx="58" ry="40"/><text class="td" y="8">HSPA1A</text></g>
<g id="d-partial" transform="translate(2548,5214)"><rect x="-59" y="-82" width="40" height="40" fill="#ffee00"/><rect x="-19" y="-82" width="40" height="40" fill="#ff1020"/><rect x="21" y="-82" width="40" height="40" fill="#ff8800"/><ellipse class="nd" rx="58" ry="40"/></g>
</g>
</g>
</svg>
